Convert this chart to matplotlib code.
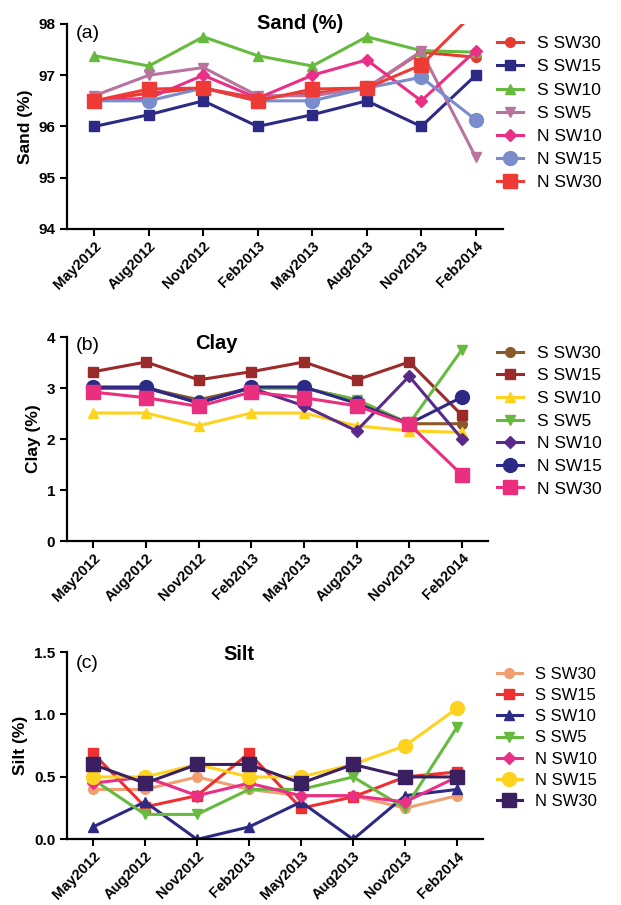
import matplotlib
matplotlib.use("Agg")
import matplotlib.pyplot as plt

plt.rcParams['font.family'] = ['Liberation Sans', 'DejaVu Sans']

dates = ["May2012", "Aug2012", "Nov2012", "Feb2013",
         "May2013", "Aug2013", "Nov2013", "Feb2014"]
series = ["S SW30", "S SW15", "S SW10", "S SW5", "N SW10", "N SW15", "N SW30"]

# sand (%)
sand_s30 = [96.5, 96.65, 96.75, 96.55, 96.65, 96.75, 97.45, 97.35]
sand_s15 = [96.0, 96.23, 96.5, 96.0, 96.23, 96.5, 96.0, 97.0]
sand_s10 = [97.38, 97.18, 97.75, 97.38, 97.18, 97.75, 97.48, 97.45]
sand_s5 = [96.6, 97.0, 97.15, 96.6, 96.6, 96.75, 97.47, 95.4]
sand_n10 = [96.5, 96.55, 97.0, 96.55, 97.0, 97.3, 96.5, 97.48]
sand_n15 = [96.5, 96.5, 96.75, 96.5, 96.5, 96.75, 96.96, 96.13]
sand_n30 = [96.5, 96.73, 96.75, 96.5, 96.73, 96.75, 97.2, 98.25]

# clay (%)
clay_s30 = [3.0, 3.0, 2.77, 3.0, 3.0, 2.77, 2.3, 2.3]
clay_s15 = [3.32, 3.51, 3.16, 3.32, 3.51, 3.16, 3.51, 2.47]
clay_s10 = [2.51, 2.51, 2.26, 2.51, 2.51, 2.26, 2.16, 2.13]
clay_s5 = [3.0, 3.0, 2.72, 3.0, 3.0, 2.77, 2.3, 3.75]
clay_n10 = [3.0, 3.0, 2.72, 3.0, 2.65, 2.16, 3.23, 2.01]
clay_n15 = [3.02, 3.02, 2.7, 3.02, 3.02, 2.7, 2.3, 2.82]
clay_n30 = [2.92, 2.81, 2.64, 2.92, 2.81, 2.65, 2.29, 1.3]

# silt (%)
silt_s30 = [0.4, 0.4, 0.5, 0.4, 0.35, 0.35, 0.25, 0.35]
silt_s15 = [0.69, 0.26, 0.35, 0.69, 0.25, 0.34, 0.5, 0.54]
silt_s10 = [0.1, 0.3, 0.0, 0.1, 0.3, 0.0, 0.35, 0.4]
silt_s5 = [0.48, 0.2, 0.2, 0.4, 0.4, 0.5, 0.25, 0.9]
silt_n10 = [0.45, 0.5, 0.35, 0.45, 0.35, 0.35, 0.3, 0.5]
silt_n15 = [0.5, 0.5, 0.6, 0.5, 0.5, 0.6, 0.75, 1.05]
silt_n30 = [0.6, 0.45, 0.6, 0.6, 0.45, 0.6, 0.5, 0.5]

markers = ["o", "s", "^", "v", "D", "o", "s"]
msizes = [7, 7, 7.5, 7.5, 6.5, 10, 10]

sand_colors = ["#e83a30", "#2d2a85", "#66bb3f", "#b9739f", "#ea2f87", "#7b8ccd", "#ee3b36"]
clay_colors = ["#8b5a2b", "#9b2a2a", "#ffd21f", "#66bb3f", "#5a2a8a", "#2d2a85", "#ea2f7f"]
silt_colors = ["#f0a070", "#ee3030", "#2d2a85", "#66bb3f", "#ea2f87", "#ffd21f", "#3a2060"]

fig = plt.figure(figsize=(6.21, 9.05), dpi=100)

panels = [
    dict(rect=[0.108, 0.747, 0.702, 0.2265], data=[sand_s30, sand_s15, sand_s10, sand_s5, sand_n10, sand_n15, sand_n30],
         colors=sand_colors, ylim=(94, 98), yticks=[94, 95, 96, 97, 98], fmt="%d",
         ylabel="Sand (%)", title="Sand (%)", title_xy=(0.534, 1.0), tag="(a)", tag_y=0.956,
         leg=(0.800, 0.960), spacing=0.46, lfs=12.5),
    dict(rect=[0.108, 0.4022, 0.678, 0.2254], data=[clay_s30, clay_s15, clay_s10, clay_s5, clay_n10, clay_n15, clay_n30],
         colors=clay_colors, ylim=(0, 4), yticks=[0, 1, 2, 3, 4], fmt="%d",
         ylabel="Clay (%)", title="Clay", title_xy=(0.354, 0.97), tag="(b)", tag_y=0.96,
         leg=(0.800, 0.618), spacing=0.43, lfs=12.5),
    dict(rect=[0.108, 0.0725, 0.670, 0.207], data=[silt_s30, silt_s15, silt_s10, silt_s5, silt_n10, silt_n15, silt_n30],
         colors=silt_colors, ylim=(0, 1.5), yticks=[0, 0.5, 1.0, 1.5], fmt="%.1f",
         ylabel="Silt (%)", title="Silt", title_xy=(0.413, 0.985), tag="(c)", tag_y=0.94,
         leg=(0.800, 0.263), spacing=0.37, lfs=12),
]

x = list(range(len(dates)))
for p in panels:
    ax = fig.add_axes(p["rect"])
    for vals, name, c, m, ms in zip(p["data"], series, p["colors"], markers, msizes):
        ax.plot(x, vals, color=c, marker=m, markersize=ms, linewidth=2.2, label=name)
    ax.set_xlim(-0.5, 7.5)
    ax.set_ylim(*p["ylim"])
    ax.set_yticks(p["yticks"])
    ax.set_yticklabels([p["fmt"] % v for v in p["yticks"]], fontweight="bold", fontsize=11)
    ax.set_xticks(x)
    ax.set_xticklabels(dates, rotation=45, ha="right", rotation_mode="anchor",
                       fontweight="bold", fontsize=10.5)
    for s in ["top", "right"]:
        ax.spines[s].set_visible(False)
    for s in ["left", "bottom"]:
        ax.spines[s].set_linewidth(1.6)
    ax.tick_params(width=1.5, length=5)
    ax.tick_params(axis="x", pad=2)
    ax.set_ylabel(p["ylabel"], fontweight="bold", fontsize=12.5)
    ax.text(p["title_xy"][0], p["title_xy"][1], p["title"], transform=ax.transAxes,
            ha="center", va="center", fontweight="bold", fontsize=14.5)
    ax.text(0.02, p["tag_y"], p["tag"], transform=ax.transAxes,
            ha="left", va="center", fontsize=14)
    fig.legend(*ax.get_legend_handles_labels(), loc="upper left", bbox_to_anchor=p["leg"],
               frameon=False, fontsize=p["lfs"], borderpad=0, borderaxespad=0,
               handlelength=1.5, handletextpad=0.8, labelspacing=p["spacing"])

fig.savefig("out.png", dpi=100)
